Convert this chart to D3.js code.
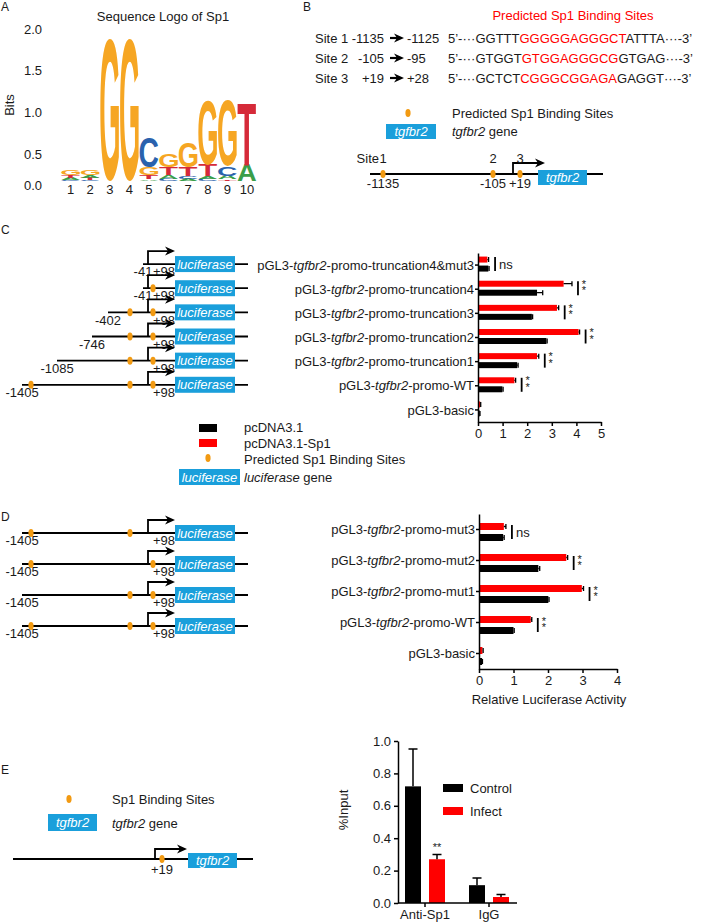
<!DOCTYPE html>
<html><head><meta charset="utf-8">
<script src="https://cdn.jsdelivr.net/npm/d3@7"></script>
<style>body{margin:0;background:#fff}</style>
</head><body>
<script>
// ================= DATA =================
// Panel A: sequence logo
const logoPositions = [1,2,3,4,5,6,7,8,9,10];
const logoStacks = [
  [["C",0.02],["A",0.04],["T",0.05],["G",0.09]],
  [["C",0.02],["T",0.04],["A",0.05],["G",0.09]],
  [["G",1.89]],
  [["G",1.89]],
  [["A",0.03],["T",0.07],["G",0.15],["C",0.45]],
  [["C",0.04],["A",0.08],["T",0.13],["G",0.23]],
  [["A",0.04],["C",0.05],["T",0.16],["G",0.38]],
  [["C",0.04],["A",0.05],["T",0.21],["G",0.85]],
  [["T",0.03],["A",0.06],["C",0.18],["G",0.87]],
  [["A",0.30],["T",0.81]]
];
const logoTicks = [0, 0.5, 1, 1.5, 2];

// Panel B: predicted binding sites
const siteNames = ["Site 1", "Site 2", "Site 3"];
const siteFrom = ["-1135", "-105", "+19"];
const siteTo = ["-1125", "-95", "+28"];
const flank5 = ["GGTTT", "GTGGT", "GCTCT"];
const coreSeq = ["GGGGGAGGGCT", "GTGGAGGGCG", "CGGGCGGAGA"];
const flank3 = ["ATTTA", "GTGAG", "GAGGT"];
const geneSites = [-1135, -105, 19];
const geneSiteNums = ["1", "2", "3"];
const geneSiteLabels = ["-1135", "-105", "+19"];

// Panel C: truncations
const seriesC = ["pcDNA3.1", "pcDNA3.1-Sp1"];
const truncCats = ["truncation4&mut3","truncation4","truncation3","truncation2","truncation1","WT","basic"];
const truncSp1 =    [0.38, 3.48, 3.21, 4.09, 2.40, 1.48, 0.09];
const truncSp1Err = [0.05, 0.34, 0.07, 0.04, 0.07, 0.05, 0.02];
const truncCtrl =   [0.42, 2.40, 2.19, 2.78, 1.59, 0.99, 0.07];
const truncCtrlErr =[0.03, 0.23, 0.03, 0.03, 0.04, 0.03, 0.01];
const truncSig = ["ns","**","**","**","**","**",""];
const truncStarts = [-41, -41, -402, -746, -1085, -1405];
const truncSites = [[], [19], [-105,19], [-105,19], [-105,19], [-1135,-105,19]];
const truncTicks = [0,1,2,3,4,5];

// Panel D: mutations
const mutCats = ["mut3","mut2","mut1","WT","basic"];
const mutSp1 =    [0.72, 2.53, 2.98, 1.50, 0.10];
const mutSp1Err = [0.06, 0.04, 0.05, 0.03, 0.02];
const mutCtrl =   [0.70, 1.72, 2.01, 1.00, 0.09];
const mutCtrlErr =[0.03, 0.04, 0.02, 0.02, 0.01];
const mutSig = ["ns","**","**","**",""];
const mutStarts = [-1405, -1405, -1405, -1405];
const mutSites = [[-1135,-105], [-1135,19], [-105,19], [-1135,-105,19]];
const mutTicks = [0,1,2,3,4];

// Panel E: ChIP
const seriesE = ["Control", "Infect"];
const chipGroups = ["Anti-Sp1", "IgG"];
const chipControl = [0.72, 0.11];
const chipControlErr = [0.23, 0.045];
const chipInfect = [0.27, 0.037];
const chipInfectErr = [0.03, 0.015];
const chipSig = ["**", ""];
const chipTicks = [0, 0.2, 0.4, 0.6, 0.8, 1.0];

// ================= DRAWING =================
const FONT = "'Liberation Sans', Arial, Helvetica, sans-serif";
const INK = "#1a1a1a", RED = "#ff0000", BLUE = "#1a9fdb", ORANGE = "#f29a12";
const svg = d3.select("body").append("svg").attr("width",708).attr("height",923)
  .style("font-family", FONT).style("font-size","13px").attr("fill", INK);

function rich(sel, parts){
  parts.forEach(p => {
    const ts = sel.append("tspan").text(p.t);
    if (p.i) ts.attr("font-style","italic");
    if (p.c) ts.attr("fill", p.c);
  });
  return sel;
}
function panelLetter(t, x, y){
  svg.append("text").attr("x",x).attr("y",y).attr("font-size",12).text(t);
}
function dot(g, x, y){
  g.append("ellipse").attr("cx",x).attr("cy",y).attr("rx",2.6).attr("ry",4).attr("fill",ORANGE);
}
function tssArrow(g, x, y, h, tip){
  g.append("path").attr("d",`M${x},${y}V${y-h}H${tip-6}`).attr("fill","none").attr("stroke","#000").attr("stroke-width",1.8);
  g.append("path").attr("d",`M${tip},${y-h}L${tip-10},${y-h-4.5}L${tip-7},${y-h}L${tip-10},${y-h+4.5}Z`).attr("fill","#000");
}
function geneBox(g, x, y, w, h, label){
  g.append("rect").attr("x",x).attr("y",y).attr("width",w).attr("height",h).attr("fill",BLUE);
  g.append("text").attr("x",x+w/2).attr("y",y+h/2).attr("dy","0.36em").attr("text-anchor","middle")
    .attr("fill","#fff").attr("font-style","italic").text(label);
}
function catParts(c){
  return c === "basic" ? [{t:"pGL3-basic"}] : [{t:"pGL3-"},{t:"tgfbr2",i:true},{t:"-promo-"+c}];
}

// ---------- Panel A ----------
panelLetter("A", 1, 11);
const gA = svg.append("g");
const yLogo = d3.scaleLinear().domain([0,0.5,2]).range([181,154,29]);
const xLogo = d3.scaleBand().domain(logoPositions).range([61.25,256.25]).paddingInner(0.05);
const logoColor = {G:"#f6a623", C:"#2a62ad", T:"#d52a39", A:"#3a9e49"};
gA.append("text").attr("x",163).attr("y",16).attr("dy","0.36em").attr("text-anchor","middle").text("Sequence Logo of Sp1");
gA.append("text").attr("transform","translate(9,105) rotate(-90)").attr("dy","0.36em").attr("text-anchor","middle").text("Bits");
gA.selectAll(".lt").data(logoTicks).join("text").attr("x",42).attr("y",d=>yLogo(d) + (d === 0 ? 4 : 0)).attr("dy","0.36em")
  .attr("text-anchor","end").text(d3.format(".1f"));
gA.selectAll(".ln").data(logoPositions).join("text").attr("x",d=>xLogo(d)+xLogo.bandwidth()/2).attr("y",194)
  .attr("text-anchor","middle").text(d=>d);
const mctx = document.createElement("canvas").getContext("2d");
mctx.font = "bold 100px 'Liberation Sans'";
logoStacks.forEach((stack,i) => {
  let cum = 0;
  stack.forEach(([ch,b]) => {
    const yb = yLogo(cum), yt = yLogo(cum+b); cum += b;
    const h = yb - yt, w = xLogo.bandwidth(), x0 = xLogo(logoPositions[i]);
    const m = mctx.measureText(ch);
    const iw = m.actualBoundingBoxLeft + m.actualBoundingBoxRight;
    const ih = m.actualBoundingBoxAscent + m.actualBoundingBoxDescent;
    const sx = w/iw, sy = h/ih;
    gA.append("text").attr("font-size",100).attr("font-weight","bold").attr("fill",logoColor[ch])
      .style("font-family","'Liberation Sans'")
      .attr("transform",`translate(${x0 + m.actualBoundingBoxLeft*sx},${yb - m.actualBoundingBoxDescent*sy}) scale(${sx},${sy})`)
      .text(ch);
  });
});

// ---------- Panel B ----------
panelLetter("B", 303, 11);
const gB = svg.append("g");
gB.append("text").attr("x",573).attr("y",15).attr("dy","0.36em").attr("text-anchor","middle").attr("fill",RED)
  .text("Predicted Sp1 Binding Sites");
const rowY = d3.scalePoint().domain(siteNames).range([38,78]);
siteNames.forEach((s,i) => {
  const y = rowY(s);
  gB.append("text").attr("x",315).attr("y",y).attr("dy","0.36em").text(s);
  gB.append("text").attr("x",384).attr("y",y).attr("dy","0.36em").attr("text-anchor","end").text(siteFrom[i]);
  gB.append("path").attr("d",`M390,${y}H397`).attr("stroke","#000").attr("stroke-width",2.2);
  gB.append("path").attr("d",`M404,${y}L394,${y-4.5}L397,${y}L394,${y+4.5}Z`).attr("fill","#000");
  gB.append("text").attr("x",407).attr("y",y).attr("dy","0.36em").text(siteTo[i]);
  rich(gB.append("text").attr("x",448).attr("y",y).attr("dy","0.36em"),
    [{t:"5\u2019-\u00b7\u00b7\u00b7"+flank5[i]},{t:coreSeq[i],c:RED},{t:flank3[i]+"\u00b7\u00b7\u00b7-3\u2019"}]);
});
dot(gB, 408, 113);
gB.append("text").attr("x",452).attr("y",113).attr("dy","0.36em").text("Predicted Sp1 Binding Sites");
geneBox(gB, 386, 124, 50, 15, "tgfbr2");
rich(gB.append("text").attr("x",452).attr("y",131).attr("dy","0.36em"), [{t:"tgfbr2",i:true},{t:" gene"}]);
const xsB = d3.scaleLinear().domain([-1135,-105,0,19]).range([383,493,513,520]);
const lineYB = 174;
gB.append("line").attr("x1",370).attr("x2",603).attr("y1",lineYB).attr("y2",lineYB).attr("stroke","#000").attr("stroke-width",1.8);
tssArrow(gB, xsB(0), lineYB, 11, 545);
geneBox(gB, 538, lineYB-4, 49, 15, "tgfbr2");
geneSites.forEach((s,i) => {
  dot(gB, xsB(s), lineYB);
  gB.append("text").attr("x",xsB(s)).attr("y",158).attr("dy","0.36em").attr("text-anchor","middle").text(geneSiteNums[i]);
  gB.append("text").attr("x",xsB(s)).attr("y",lineYB+9).attr("dy","0.36em").attr("text-anchor","middle").text(geneSiteLabels[i]);
});
gB.append("text").attr("x",379).attr("y",158).attr("dy","0.36em").attr("text-anchor","end").text("Site");

// ---------- horizontal bar chart helper ----------
function hbar(o){
  const g = svg.append("g");
  const x = d3.scaleLinear().domain([0,o.xMax]).range(o.xRange);
  const y = d3.scaleBand().domain(o.cats).range(o.yRange);
  const sub = d3.scaleBand().domain(["sp1","ctrl"]).range(o.subRange).paddingInner(o.subPad);
  const rows = o.cats.map((c,i) => ({c, i, yc: y(c)+y.bandwidth()/2}));
  const bars = [];
  rows.forEach(r => {
    bars.push({k:"sp1", v:o.sp1[r.i], e:o.sp1Err[r.i], y:r.yc+sub("sp1"), col:RED});
    bars.push({k:"ctrl", v:o.ctrl[r.i], e:o.ctrlErr[r.i], y:r.yc+sub("ctrl"), col:"#000"});
  });
  const bw = sub.bandwidth();
  g.selectAll(".bar").data(bars).join("rect").attr("x",x(0)).attr("y",d=>d.y)
    .attr("width",d=>x(d.v)-x(0)).attr("height",bw).attr("fill",d=>d.col);
  g.selectAll(".eb").data(bars).join("path")
    .attr("d",d=>`M${x(d.v)},${d.y+bw/2}H${x(d.v+d.e)}M${x(d.v+d.e)},${d.y+bw/2-2.5}V${d.y+bw/2+2.5}`)
    .attr("stroke","#000").attr("stroke-width",1.3).attr("fill","none");
  const ax = g.append("g").attr("transform",`translate(0,${o.yRange[1]})`)
    .call(d3.axisBottom(x).tickValues(o.ticks).tickFormat(d3.format("d")).tickSize(4).tickSizeOuter(0));
  ax.attr("font-size",13).attr("font-family",FONT);
  ax.selectAll("line,path").attr("stroke","#000").attr("stroke-width",1.5);
  ax.selectAll("text").attr("fill",INK);
  const ay = g.append("g").attr("transform",`translate(${x(0)},0)`)
    .call(d3.axisLeft(y).tickSize(3).tickSizeOuter(0).tickFormat(""));
  ay.selectAll("line,path").attr("stroke","#000").attr("stroke-width",1.5);
  rows.forEach(r => {
    rich(g.append("text").attr("x",x(0)-4).attr("y",r.yc).attr("dy","0.36em").attr("text-anchor","end"), catParts(r.c));
    const s = o.sig[r.i];
    if (!s) return;
    const gc = r.yc + o.groupOff;
    const bx = x(Math.max(o.sp1[r.i]+o.sp1Err[r.i], o.ctrl[r.i]+o.ctrlErr[r.i])) + 6;
    g.append("line").attr("x1",bx).attr("x2",bx).attr("y1",gc-7).attr("y2",gc+7).attr("stroke","#000").attr("stroke-width",1.8);
    if (s === "ns") {
      g.append("text").attr("x",bx+4).attr("y",gc).attr("dy","0.36em").text("ns");
    } else {
      g.append("text").attr("x",bx+6).attr("y",gc-0.5).attr("font-size",11).attr("text-anchor","middle").text("*");
      g.append("text").attr("x",bx+6).attr("y",gc+6).attr("font-size",11).attr("text-anchor","middle").text("*");
    }
  });
  return {x, y};
}

// ---------- Panel C ----------
panelLetter("C", 1, 234);
const C = hbar({cats:truncCats, sp1:truncSp1, sp1Err:truncSp1Err, ctrl:truncCtrl, ctrlErr:truncCtrlErr, sig:truncSig,
  xMax:5, xRange:[478,601], yRange:[253,422], ticks:truncTicks, subRange:[-8.5,6.5], subPad:1/3, groupOff:-1});
const gCd = svg.append("g");
const xsP = d3.scaleLinear().domain([-1405,-1135,-1085,-746,-402,-105,-41,0,19,98])
  .range([22,31,57,92,108,130,143,148,153,175]);
function promoterRow(g, y, start, sites){
  g.append("line").attr("x1",xsP(start)).attr("x2",248).attr("y1",y).attr("y2",y).attr("stroke","#000").attr("stroke-width",1.8);
  tssArrow(g, xsP(0), y, 13, 175);
  geneBox(g, xsP(98), y-8, 60, 16, "luciferase");
  sites.forEach(s => dot(g, xsP(s), y));
  g.append("text").attr("x",xsP(start)).attr("y",y+7.5).attr("dy","0.36em").attr("text-anchor","middle").text(start);
  g.append("text").attr("x",xsP(98)).attr("y",y+7.5).attr("dy","0.36em").attr("text-anchor","end").text("+98");
}
truncStarts.forEach((s,i) => promoterRow(gCd, C.y(truncCats[i]) + C.y.bandwidth()/2 - 1, s, truncSites[i]));
const gCl = svg.append("g");
gCl.append("rect").attr("x",199).attr("y",424).attr("width",18).attr("height",8).attr("fill","#000");
gCl.append("rect").attr("x",199).attr("y",439).attr("width",18).attr("height",8).attr("fill",RED);
dot(gCl, 208, 458);
geneBox(gCl, 179, 469, 61, 16, "luciferase");
gCl.append("text").attr("x",244).attr("y",427).attr("dy","0.36em").text(seriesC[0]);
gCl.append("text").attr("x",244).attr("y",443).attr("dy","0.36em").text(seriesC[1]);
gCl.append("text").attr("x",244).attr("y",459).attr("dy","0.36em").text("Predicted Sp1 Binding Sites");
rich(gCl.append("text").attr("x",244).attr("y",477).attr("dy","0.36em"), [{t:"luciferase",i:true},{t:" gene"}]);

// ---------- Panel D ----------
panelLetter("D", 1, 521);
const D = hbar({cats:mutCats, sp1:mutSp1, sp1Err:mutSp1Err, ctrl:mutCtrl, ctrlErr:mutCtrlErr, sig:mutSig,
  xMax:4, xRange:[479,617], yRange:[514,669], ticks:mutTicks, subRange:[-6.5,11.5], subPad:4/11, groupOff:2.5});
svg.append("text").attr("x",549).attr("y",699).attr("dy","0.36em").attr("text-anchor","middle").text("Relative Luciferase Activity");
const gDd = svg.append("g");
mutStarts.forEach((s,i) => promoterRow(gDd, D.y(mutCats[i]) + D.y.bandwidth()/2 + 3.5, s, mutSites[i]));

// ---------- Panel E ----------
panelLetter("E", 1, 774);
const gE = svg.append("g");
dot(gE, 69, 799);
gE.append("text").attr("x",112).attr("y",799).attr("dy","0.36em").text("Sp1 Binding Sites");
geneBox(gE, 48, 814, 49, 17, "tgfbr2");
rich(gE.append("text").attr("x",112).attr("y",823).attr("dy","0.36em"), [{t:"tgfbr2",i:true},{t:" gene"}]);
const xsE = d3.scaleLinear().domain([0,19]).range([155,162]);
gE.append("line").attr("x1",13).attr("x2",253).attr("y1",859).attr("y2",859).attr("stroke","#000").attr("stroke-width",1.8);
tssArrow(gE, xsE(0), 859, 10, 187);
geneBox(gE, 188, 853, 49, 15, "tgfbr2");
dot(gE, xsE(19), 859);
gE.append("text").attr("x",xsE(19)).attr("y",869).attr("dy","0.36em").attr("text-anchor","middle").text("+19");

const yE = d3.scaleLinear().domain([0,1]).range([903,741]);
const xE = d3.scaleBand().domain(chipGroups).range([393,521]);
const subE = d3.scaleBand().domain(seriesE).range([-20,20]).paddingInner(1/3);
const chipBars = [];
chipGroups.forEach((gname,i) => {
  chipBars.push({s:"Control", g:gname, v:chipControl[i], e:chipControlErr[i], col:"#000"});
  chipBars.push({s:"Infect", g:gname, v:chipInfect[i], e:chipInfectErr[i], col:RED});
});
const cx = d => xE(d.g) + xE.bandwidth()/2 + subE(d.s);
gE.selectAll(".cb").data(chipBars).join("rect").attr("x",cx).attr("y",d=>yE(d.v))
  .attr("width",subE.bandwidth()).attr("height",d=>yE(0)-yE(d.v)).attr("fill",d=>d.col);
gE.selectAll(".ce").data(chipBars).join("path")
  .attr("d",d=>{const m = cx(d)+subE.bandwidth()/2; return `M${m},${yE(d.v)}V${yE(d.v+d.e)}M${m-4.5},${yE(d.v+d.e)}H${m+4.5}`;})
  .attr("stroke","#000").attr("stroke-width",1.5).attr("fill","none");
chipGroups.forEach((gname,i) => {
  if (!chipSig[i]) return;
  const d = chipBars.find(b => b.g===gname && b.s==="Infect");
  gE.append("text").attr("x",cx(d)+subE.bandwidth()/2).attr("y",yE(d.v+d.e)-3).attr("font-size",11)
    .attr("text-anchor","middle").text(chipSig[i]);
});
const ayE = gE.append("g").attr("transform","translate(398,0)")
  .call(d3.axisLeft(yE).tickValues(chipTicks).tickFormat(d3.format(".1f")).tickSize(4).tickSizeOuter(0));
ayE.attr("font-size",13).attr("font-family",FONT);
ayE.selectAll("line,path").attr("stroke","#000").attr("stroke-width",1.5);
ayE.selectAll("text").attr("fill",INK);
const axE = gE.append("g").attr("transform",`translate(0,${yE(0)})`)
  .call(d3.axisBottom(xE).tickSize(4).tickSizeOuter(0));
axE.attr("font-size",13).attr("font-family",FONT);
axE.select(".domain").remove();
axE.selectAll("line").attr("stroke","#000").attr("stroke-width",1.5);
axE.selectAll("text").attr("fill",INK);
gE.append("line").attr("x1",398).attr("x2",517).attr("y1",yE(0)).attr("y2",yE(0)).attr("stroke","#000").attr("stroke-width",1.5);
gE.append("text").attr("transform","translate(343,810) rotate(-90)").attr("dy","0.36em").attr("text-anchor","middle").text("%Input");
seriesE.forEach((s,i) => {
  const yy = [788, 811][i];
  gE.append("rect").attr("x",443).attr("y",yy-4).attr("width",20).attr("height",8).attr("fill",i ? RED : "#000");
  gE.append("text").attr("x",470).attr("y",yy).attr("dy","0.36em").text(s);
});
</script>
</body></html>
